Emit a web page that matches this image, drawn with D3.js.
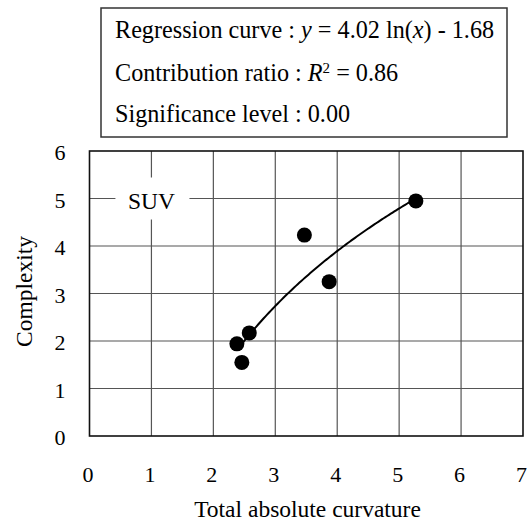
<!DOCTYPE html>
<html>
<head>
<meta charset="utf-8">
<script src="https://cdn.jsdelivr.net/npm/d3@7"></script>
<style>
  html, body { margin: 0; padding: 0; background: #fff; }
  svg { display: block; }
  text { font-family: "Liberation Serif", "Times New Roman", serif; fill: #000; }
</style>
</head>
<body>
<script>
// Observations: total absolute curvature vs. complexity (SUV group)
const curvature = [5.27, 3.47, 3.87, 2.58, 2.38, 2.46];
const complexity = [4.95, 4.23, 3.25, 2.17, 1.94, 1.55];

// Fitted logarithmic regression y = a ln(x) + b
const coefA = 4.02;
const coefB = -1.68;
const rSquared = "0.86";
const significance = "0.00";

const xTicks = [0, 1, 2, 3, 4, 5, 6, 7];
const yTicks = [0, 1, 2, 3, 4, 5, 6];
const groupLabel = "SUV";
const xTitle = "Total absolute curvature";
const yTitle = "Complexity";

const W = 532, H = 522;
const plot = { left: 89.5, right: 523, top: 151, bottom: 436 };

const svg = d3.select("body").append("svg")
  .attr("width", W).attr("height", H);

const x = d3.scaleLinear().domain([0, 7]).range([plot.left, plot.right]);
const y = d3.scaleLinear().domain([0, 6]).range([plot.bottom, plot.top]);

// grid
const grid = svg.append("g");
grid.selectAll("line.v").data(xTicks.slice(1, -1)).enter().append("line")
  .attr("x1", d => x(d)).attr("x2", d => x(d))
  .attr("y1", plot.top).attr("y2", plot.bottom)
  .attr("stroke", "#555").attr("stroke-width", 1.2);
grid.selectAll("line.h").data(yTicks.slice(1, -1)).enter().append("line")
  .attr("x1", plot.left).attr("x2", plot.right)
  .attr("y1", d => y(d)).attr("y2", d => y(d))
  .attr("stroke", "#555").attr("stroke-width", 1.2);

// group label with white backing that interrupts the grid
const lbl = svg.append("g").attr("transform", `translate(${x(1)},${y(5)})`);
lbl.append("rect").attr("x", -36).attr("y", -21).attr("width", 74).attr("height", 42)
  .attr("fill", "#fff");
lbl.append("text").attr("x", 0).attr("y", 10).attr("text-anchor", "middle")
  .attr("font-size", 23.5).text(groupLabel);

// frame
svg.append("rect")
  .attr("x", plot.left).attr("y", plot.top)
  .attr("width", plot.right - plot.left).attr("height", plot.bottom - plot.top)
  .attr("fill", "none").attr("stroke", "#111").attr("stroke-width", 1.6);

// axes (labels only)
const xAxis = d3.axisBottom(x).tickValues(xTicks).tickFormat(d3.format("d"))
  .tickSize(0).tickPadding(0);
const gx = svg.append("g").attr("transform", `translate(-2,${plot.bottom + 46})`).call(xAxis);
gx.select(".domain").remove();
gx.selectAll("text").attr("font-size", 22).attr("font-family", "Liberation Serif")
  .attr("dy", 0).attr("y", 0);

const yAxis = d3.axisLeft(y).tickValues(yTicks).tickFormat(d3.format("d"))
  .tickSize(0).tickPadding(0);
const gy = svg.append("g").attr("transform", `translate(${plot.left - 24},1.5)`).call(yAxis);
gy.select(".domain").remove();
gy.selectAll("text").attr("font-size", 22).attr("font-family", "Liberation Serif")
  .attr("dy", "0.34em").attr("x", 0);

// axis titles
svg.append("text").attr("x", 307.5).attr("y", 517)
  .attr("text-anchor", "middle").attr("font-size", 23.5).text(xTitle);
svg.append("text")
  .attr("transform", `translate(32,${(plot.top + plot.bottom) / 2 - 2}) rotate(-90)`)
  .attr("text-anchor", "middle").attr("font-size", 23.5).text(yTitle);

// regression curve over the observed range
const [xmin, xmax] = d3.extent(curvature);
const curvePts = d3.range(0, 101).map(i => {
  const xv = xmin + (xmax - xmin) * i / 100;
  return [xv, coefA * Math.log(xv) + coefB];
});
svg.append("path").datum(curvePts)
  .attr("d", d3.line().x(d => x(d[0])).y(d => y(d[1])))
  .attr("fill", "none").attr("stroke", "#000").attr("stroke-width", 2);

// points
svg.selectAll("circle.pt").data(curvature.map((c, i) => [c, complexity[i]]))
  .enter().append("circle")
  .attr("cx", d => x(d[0])).attr("cy", d => y(d[1])).attr("r", 7.5)
  .attr("fill", "#000");

// statistics box
const box = svg.append("g");
box.append("rect").attr("x", 101).attr("y", 8).attr("width", 406).attr("height", 129)
  .attr("fill", "#fff").attr("stroke", "#333").attr("stroke-width", 1.5);

const fs = 24.2;
const t1 = box.append("text").attr("x", 115).attr("y", 38).attr("font-size", fs);
t1.append("tspan").text("Regression curve : ");
t1.append("tspan").attr("font-style", "italic").text("y");
t1.append("tspan").text(` = ${coefA.toFixed(2)} ln(`);
t1.append("tspan").attr("font-style", "italic").text("x");
t1.append("tspan").text(`) - ${Math.abs(coefB).toFixed(2)}`);

const t2 = box.append("text").attr("x", 115).attr("y", 81).attr("font-size", fs);
t2.append("tspan").text("Contribution ratio : ");
t2.append("tspan").attr("font-style", "italic").text("R");
t2.append("tspan").attr("font-size", 15).attr("dy", -8).text("2");
t2.append("tspan").attr("dy", 8).text(` = ${rSquared}`);

box.append("text").attr("x", 115).attr("y", 122).attr("font-size", fs)
  .text(`Significance level : ${significance}`);
</script>
</body>
</html>
